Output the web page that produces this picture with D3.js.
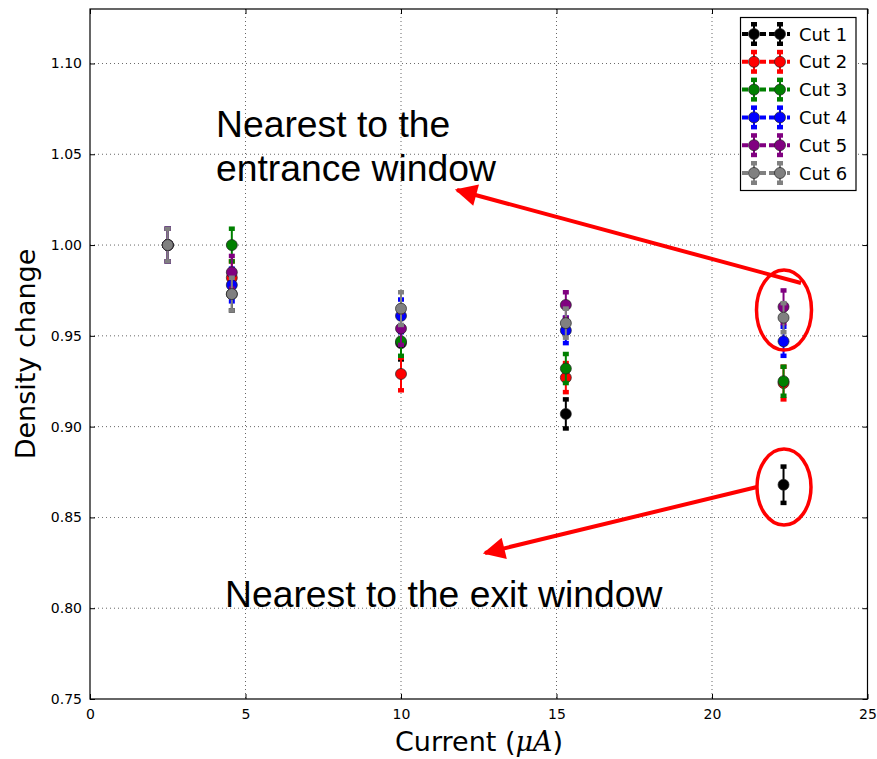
<!DOCTYPE html>
<html>
<head>
<meta charset="utf-8">
<script src="https://cdn.jsdelivr.net/npm/d3@7"></script>
<style>
  html, body { margin: 0; padding: 0; background: #fff; }
  svg { display: block; }
</style>
</head>
<body>
<svg id="chart" width="877" height="759"></svg>
<script>
// Beam current (µA) at which each density measurement was taken
const current = [2.5, 4.56, 10.0, 15.3, 22.3];

// Relative density change for each cut, with its uncertainty
const cutNames = ["Cut 1", "Cut 2", "Cut 3", "Cut 4", "Cut 5", "Cut 6"];
const cutColors = ["#000000", "#ff0000", "#008000", "#0000ff", "#800080", "#808080"];
const cut1 = [1.000, 0.973, 0.946, 0.907, 0.868];
const cut2 = [1.000, 0.982, 0.929, 0.927, 0.924];
const cut3 = [1.000, 1.000, 0.947, 0.932, 0.925];
const cut4 = [1.000, 0.978, 0.961, 0.953, 0.947];
const cut5 = [1.000, 0.985, 0.954, 0.967, 0.966];
const cut6 = [1.000, 0.973, 0.965, 0.957, 0.960];
const err1 = [0.009, 0.009, 0.009, 0.008, 0.010];
const err2 = [0.009, 0.009, 0.009, 0.008, 0.009];
const err3 = [0.009, 0.009, 0.008, 0.008, 0.008];
const err4 = [0.009, 0.009, 0.009, 0.007, 0.008];
const err5 = [0.009, 0.009, 0.009, 0.007, 0.009];
const err6 = [0.009, 0.009, 0.009, 0.008, 0.008];

const xTicks = [0, 5, 10, 15, 20, 25];
const yTicks = [0.75, 0.80, 0.85, 0.90, 0.95, 1.00, 1.05, 1.10];

const cutValues = [cut1, cut2, cut3, cut4, cut5, cut6];
const cutErrors = [err1, err2, err3, err4, err5, err6];
const series = cutNames.map((name, i) => ({
  name, color: cutColors[i],
  points: current.map((c, j) => ({ x: c, y: cutValues[i][j], e: cutErrors[i][j] }))
}));

const svg = d3.select("#chart");
const L = 90, R = 867.5, T = 9, B = 699;
const x = d3.scaleLinear().domain([0, 25]).range([L, R]);
const y = d3.scaleLinear().domain([0.75, 1.13]).range([B, T]);

const tickFont = "DejaVu Sans, sans-serif";

// dotted grid
const grid = svg.append("g");
grid.selectAll("line.gx").data(xTicks.slice(1, -1)).join("line")
  .attr("x1", d => x(d)).attr("x2", d => x(d)).attr("y1", T).attr("y2", B)
  .attr("stroke", "#000").attr("stroke-width", 0.8).attr("stroke-dasharray", "1,3").attr("opacity", 0.75);
grid.selectAll("line.gy").data(yTicks.slice(1)).join("line")
  .attr("x1", L).attr("x2", R).attr("y1", d => y(d)).attr("y2", d => y(d))
  .attr("stroke", "#000").attr("stroke-width", 0.8).attr("stroke-dasharray", "1,3").attr("opacity", 0.75);

// axes with inward ticks on all four sides
function styleAxis(g) {
  g.select(".domain").remove();
  g.selectAll(".tick line").attr("stroke", "#000").attr("stroke-width", 1);
  g.selectAll(".tick text").attr("font-family", tickFont).attr("font-size", 14).attr("fill", "#000");
}
svg.append("g").attr("transform", `translate(0,${B})`)
  .call(d3.axisBottom(x).tickValues(xTicks).tickFormat(d3.format("d")).tickSize(-5).tickPadding(10))
  .call(styleAxis);
svg.append("g").attr("transform", `translate(0,${T})`)
  .call(d3.axisTop(x).tickValues(xTicks).tickFormat("").tickSize(-5))
  .call(styleAxis);
svg.append("g").attr("transform", `translate(${L},0)`)
  .call(d3.axisLeft(y).tickValues(yTicks).tickFormat(d3.format(".2f")).tickSize(-5).tickPadding(8))
  .call(styleAxis);
svg.append("g").attr("transform", `translate(${R},0)`)
  .call(d3.axisRight(y).tickValues(yTicks).tickFormat("").tickSize(-5))
  .call(styleAxis);

// error bars and markers, one cut after another
const capW = 6, capH = 4.5;
series.forEach(s => {
  const g = svg.append("g");
  g.selectAll("line.bar").data(s.points).join("line")
    .attr("x1", d => x(d.x)).attr("x2", d => x(d.x))
    .attr("y1", d => y(d.y + d.e)).attr("y2", d => y(d.y - d.e))
    .attr("stroke", s.color).attr("stroke-width", 2);
  ["hi", "lo"].forEach(k => {
    g.selectAll("rect." + k).data(s.points).join("rect")
      .attr("x", d => x(d.x) - capW / 2)
      .attr("y", d => y(k === "hi" ? d.y + d.e : d.y - d.e) - capH / 2)
      .attr("width", capW).attr("height", capH).attr("fill", s.color);
  });
  g.selectAll("circle").data(s.points).join("circle")
    .attr("cx", d => x(d.x)).attr("cy", d => y(d.y)).attr("r", 5.5)
    .attr("fill", s.color).attr("stroke", "#222").attr("stroke-width", 0.7);
});

// frame
svg.append("rect").attr("x", L).attr("y", T).attr("width", R - L).attr("height", B - T)
  .attr("fill", "none").attr("stroke", "#000").attr("stroke-width", 1.2);

// axis titles
svg.append("text").attr("transform", "translate(35,354) rotate(-90)")
  .attr("text-anchor", "middle").attr("font-family", tickFont).attr("font-size", 27)
  .text("Density change");
const xl = svg.append("text").attr("x", 479).attr("y", 751).attr("text-anchor", "middle")
  .attr("font-family", tickFont).attr("font-size", 27);
xl.append("tspan").text("Current (");
xl.append("tspan").attr("font-family", "DejaVu Serif, serif").attr("font-style", "italic").text("μA");
xl.append("tspan").text(")");

// legend
const lg = svg.append("g");
lg.append("rect").attr("x", 740.5).attr("y", 17.5).attr("width", 115.5).attr("height", 173)
  .attr("fill", "#fff").attr("stroke", "#000").attr("stroke-width", 1.2);
series.forEach((s, i) => {
  const cy = 34 + i * 27.8;
  const row = lg.append("g");
  row.append("line").attr("x1", 742).attr("x2", 790).attr("y1", cy).attr("y2", cy)
    .attr("stroke", s.color).attr("stroke-width", 4).attr("stroke-dasharray", "6,3");
  [754, 780].forEach(mx => {
    row.append("line").attr("x1", mx).attr("x2", mx).attr("y1", cy - 10).attr("y2", cy + 10)
      .attr("stroke", s.color).attr("stroke-width", 2);
    row.append("rect").attr("x", mx - 3).attr("y", cy - 12).attr("width", 6).attr("height", 4.5).attr("fill", s.color);
    row.append("rect").attr("x", mx - 3).attr("y", cy + 7.5).attr("width", 6).attr("height", 4.5).attr("fill", s.color);
    row.append("circle").attr("cx", mx).attr("cy", cy).attr("r", 5.5)
      .attr("fill", s.color).attr("stroke", "#222").attr("stroke-width", 0.7);
  });
  row.append("text").attr("x", 799).attr("y", cy + 6.5).attr("font-family", tickFont)
    .attr("font-size", 18).text(s.name);
});

// annotations
const noteFont = "Liberation Sans, Arial, sans-serif";
const red = "#ff0000";
svg.append("defs").append("marker").attr("id", "head")
  .attr("viewBox", "0 0 10 10").attr("refX", 9).attr("refY", 5)
  .attr("markerWidth", 6.5).attr("markerHeight", 5.5).attr("markerUnits", "strokeWidth")
  .attr("orient", "auto")
  .append("path").attr("d", "M0,0 L10,5 L0,10 Z").attr("fill", red);

const n1 = svg.append("text").attr("font-family", noteFont).attr("font-size", 37.3).attr("fill", "#000");
n1.append("tspan").attr("x", 216).attr("y", 137).text("Nearest to the");
n1.append("tspan").attr("x", 216).attr("y", 181).text("entrance window");
svg.append("text").attr("x", 225).attr("y", 607).attr("font-family", noteFont)
  .attr("font-size", 37.3).attr("fill", "#000").text("Nearest to the exit window");

svg.append("ellipse").attr("cx", 784).attr("cy", 310).attr("rx", 27.5).attr("ry", 40)
  .attr("fill", "none").attr("stroke", red).attr("stroke-width", 3.5);
svg.append("ellipse").attr("cx", 784).attr("cy", 487).attr("rx", 27).attr("ry", 38)
  .attr("fill", "none").attr("stroke", red).attr("stroke-width", 3.5);

svg.append("line").attr("x1", 801).attr("y1", 283).attr("x2", 457).attr("y2", 190)
  .attr("stroke", red).attr("stroke-width", 4).attr("marker-end", "url(#head)");
svg.append("line").attr("x1", 757).attr("y1", 487).attr("x2", 485).attr("y2", 553)
  .attr("stroke", red).attr("stroke-width", 4).attr("marker-end", "url(#head)");
</script>
</body>
</html>
